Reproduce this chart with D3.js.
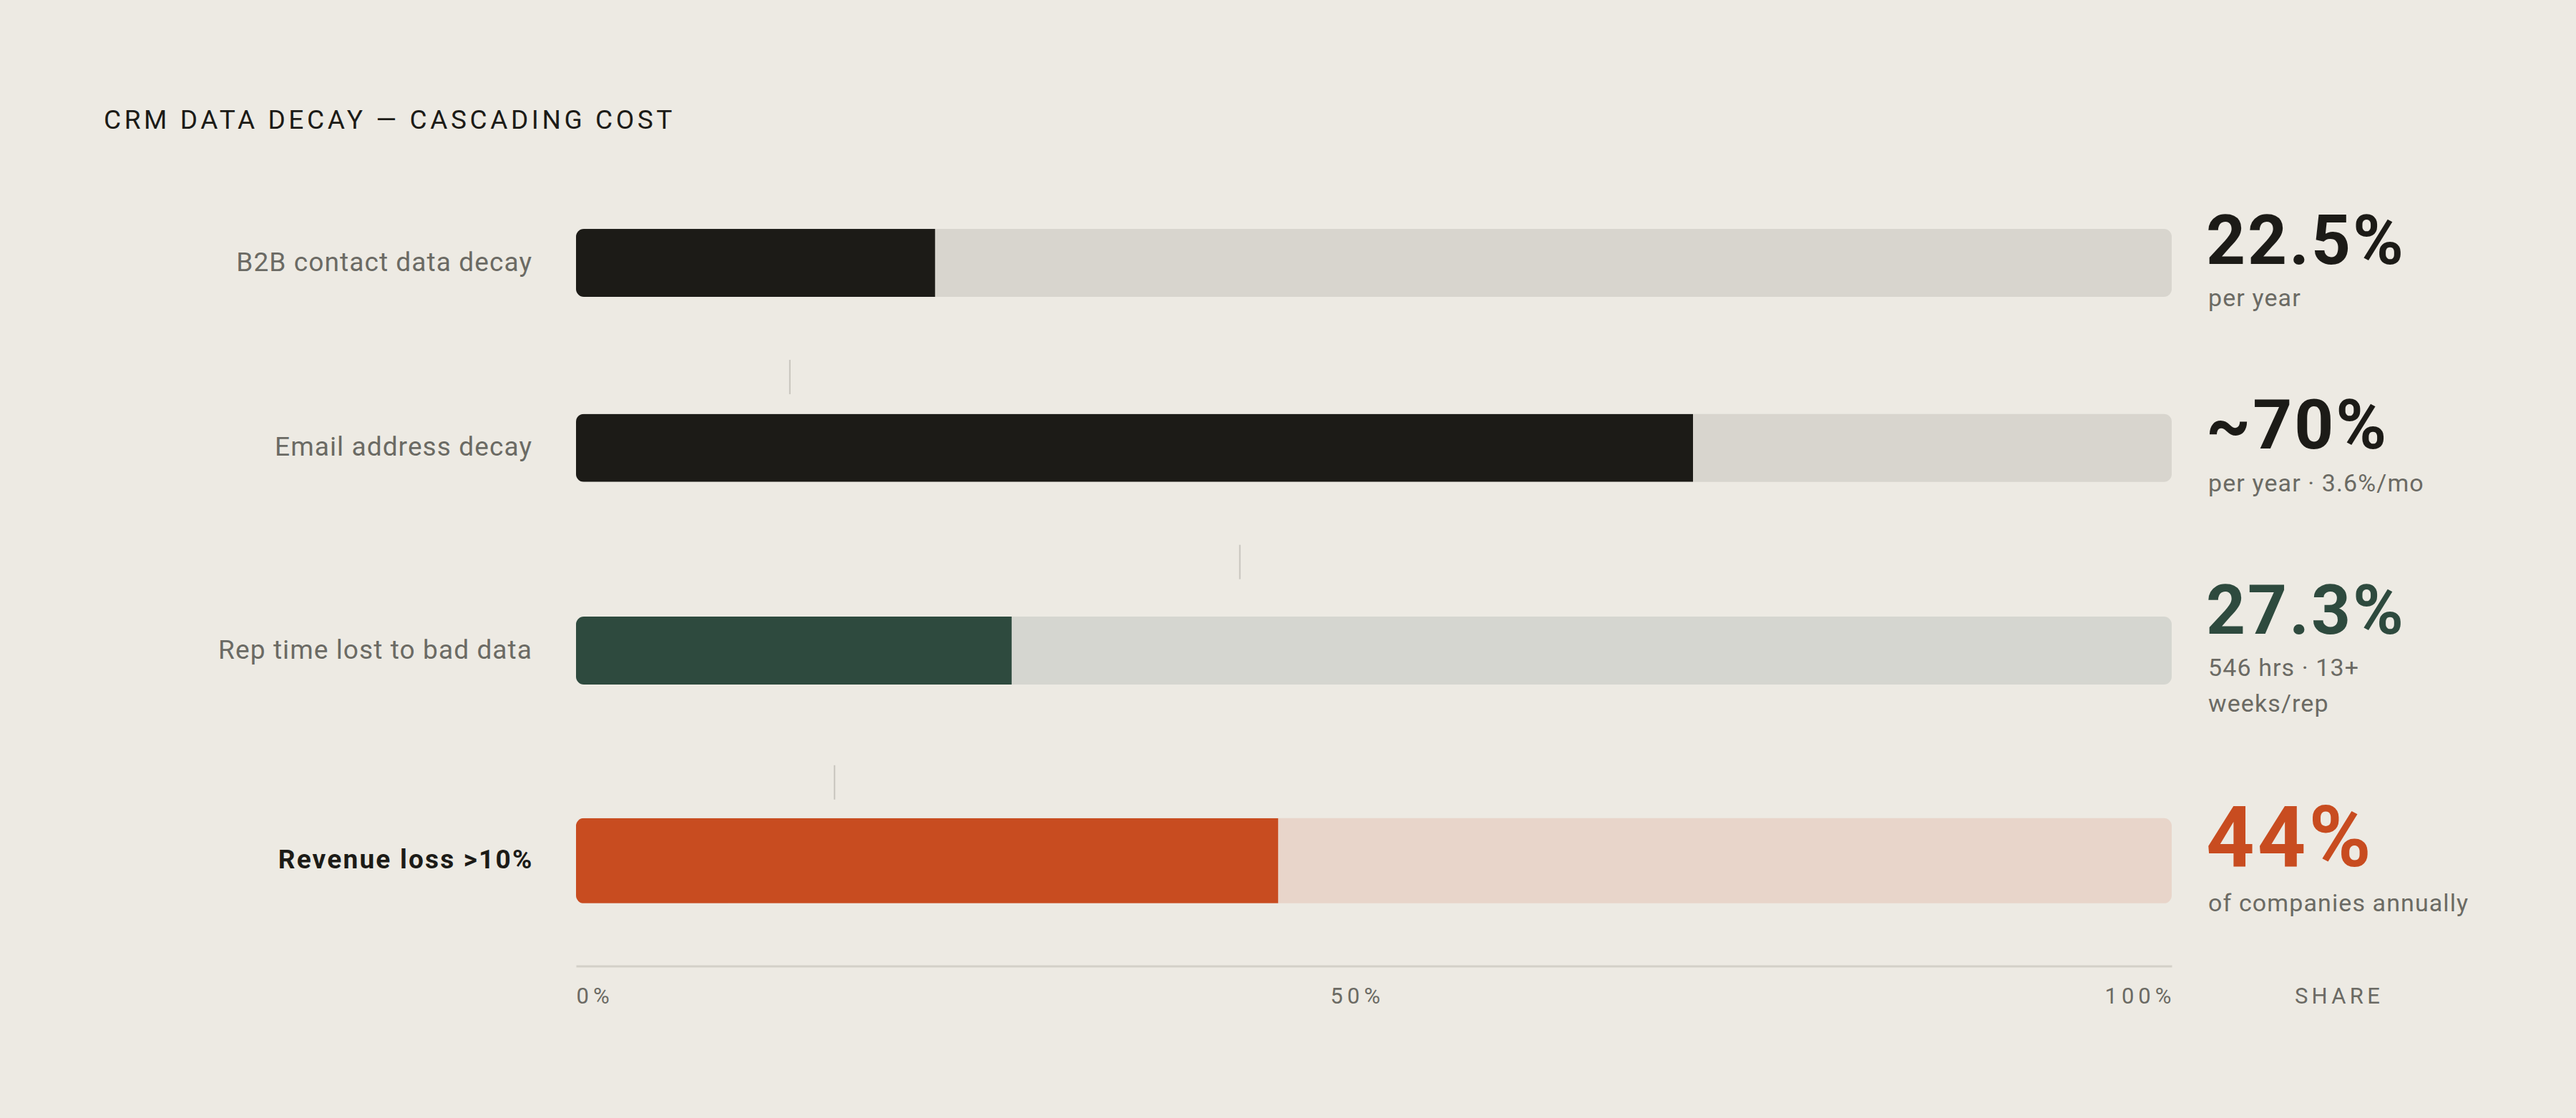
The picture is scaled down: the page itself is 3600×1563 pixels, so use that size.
<!DOCTYPE html>
<html>
<head>
<meta charset="utf-8">
<script src="https://cdn.jsdelivr.net/npm/d3@7"></script>
<style>
  html, body { margin: 0; padding: 0; background: #edeae3; }
  svg { display: block; }
</style>
</head>
<body>
<svg id="chart" width="3600" height="1563"></svg>
<script>
// Chart data
const categories = ["B2B contact data decay", "Email address decay", "Rep time lost to bad data", "Revenue loss >10%"];
const values = [22.5, 70, 27.3, 44];
const valueLabels = ["22.5%", "~70%", "27.3%", "44%"];
const notes = [["per year"], ["per year \u00b7 3.6%/mo"], ["546 hrs \u00b7 13+", "weeks/rep"], ["of companies annually"]];
const carryOver = [13.4, 41.6, 16.2];   // small marker between rows, where the next step picks up
const tickValues = [0, 50, 100];
const tickLabels = ["0%", "50%", "100%"];
const highlightRow = 3;

// Colours per row: fill, track, value text
const fills = ["#1c1b17", "#1c1b17", "#2e4a3e", "#c84c20"];
const tracks = ["#d8d5ce", "#d8d5ce", "#d5d6d0", "#e8d5ca"];
const font = "Roboto, 'Noto Sans', sans-serif";

const svg = d3.select("#chart");
const W = 3600, H = 1563;
svg.append("rect").attr("width", W).attr("height", H).attr("fill", "#edeae3");

// Title
svg.append("text")
    .attr("x", 145).attr("y", 180)
    .attr("font-family", font).attr("font-size", 37)
    .attr("letter-spacing", "4.6px")
    .attr("fill", "#1c1b17")
    .text("CRM DATA DECAY \u2014 CASCADING COST");

const x = d3.scaleLinear().domain([0, 100]).range([805, 3035]);
const labelX = 744, valueX = 3083, valueColW = 364;

// Row heights work like a stacked layout: value line + note lines
const subLine = 49.5, connGap = 58.5, connLen = 48, connSection = 104.5;
function lineFont(i) { return i === highlightRow ? 112 : 92; }
function blockHeight(i) { return lineFont(i) * 1.05 + 8 + notes[i].length * subLine; }

let rowTop = 290.5;
const rows = categories.map((c, i) => {
    const h = blockHeight(i);
    const r = { i: i, top: rowTop, h: h, cy: rowTop + h / 2 };
    rowTop += h + connSection;
    return r;
});

const defs = svg.append("defs");

rows.forEach(r => {
    const i = r.i;
    const hl = i === highlightRow;
    const barH = hl ? 119 : 95;
    const y0 = r.cy - barH / 2;

    defs.append("clipPath").attr("id", "clip" + i)
        .append("rect")
        .attr("x", x(0)).attr("y", y0)
        .attr("width", x(100) - x(0)).attr("height", barH)
        .attr("rx", 11);

    // track
    svg.append("rect")
        .attr("x", x(0)).attr("y", y0)
        .attr("width", x(100) - x(0)).attr("height", barH)
        .attr("rx", 11)
        .attr("fill", tracks[i]);

    // value bar
    svg.append("rect")
        .attr("clip-path", "url(#clip" + i + ")")
        .attr("x", x(0)).attr("y", y0)
        .attr("width", x(values[i]) - x(0)).attr("height", barH)
        .attr("fill", fills[i]);

    // category label
    svg.append("text")
        .attr("x", labelX + (hl ? 1.5 : 0)).attr("y", r.cy + 11)
        .attr("text-anchor", "end")
        .attr("font-family", font).attr("font-size", 37)
        .attr("letter-spacing", hl ? "2.2px" : "1.1px")
        .attr("font-weight", hl ? 700 : 400)
        .attr("fill", hl ? "#1c1b17" : "#6b6a64")
        .text(categories[i]);

    // big number
    const lf = lineFont(i);
    svg.append("text")
        .attr("x", valueX).attr("y", r.top + lf * 0.85)
        .attr("font-family", font).attr("font-size", hl ? 118 : 96)
        .attr("letter-spacing", hl ? "4px" : "3px")
        .attr("font-weight", 700)
        .attr("fill", fills[i])
        .text(valueLabels[i]);

    // note lines
    notes[i].forEach((n, k) => {
        svg.append("text")
            .attr("x", valueX + 3).attr("y", r.top + lf * 1.05 + 41 + k * subLine)
            .attr("font-family", font).attr("font-size", 34)
            .attr("letter-spacing", "1.1px")
            .attr("fill", "#6b6a64")
            .text(n);
    });

    // connector to next row
    if (i < carryOver.length) {
        const cTop = r.top + r.h + connGap;
        svg.append("line")
            .attr("x1", x(carryOver[i])).attr("x2", x(carryOver[i]))
            .attr("y1", cTop).attr("y2", cTop + connLen)
            .attr("stroke", "#c8c5be").attr("stroke-width", 2);
    }
});

// Axis
const last = rows[rows.length - 1];
const axisY = last.top + last.h + 59.5;
const axis = svg.append("g")
    .attr("transform", "translate(0," + axisY + ")")
    .call(d3.axisBottom(x).tickValues(tickValues)
        .tickFormat((d, k) => tickLabels[k])
        .tickSize(0).tickSizeOuter(0).tickPadding(31));
axis.select(".domain").attr("stroke", "#d3d0c8").attr("stroke-width", 3);
axis.selectAll("text")
    .attr("font-family", font).attr("font-size", 31)
    .attr("letter-spacing", "6px")
    .attr("fill", "#6b6a64");
const tickText = axis.selectAll(".tick text").nodes();
tickText[0].setAttribute("text-anchor", "start");
tickText[tickText.length - 1].setAttribute("text-anchor", "end");
tickText[tickText.length - 1].setAttribute("x", 5);
// middle label sits between the end labels like a space-between row
const w0 = tickText[0].getComputedTextLength();
const wN = tickText[tickText.length - 1].getComputedTextLength();
d3.select(tickText[1]).attr("x", (w0 - wN) / 2);

svg.append("text")
    .attr("x", valueX + 4 + valueColW / 2).attr("y", axisY + 31 + 31 * 0.71)
    .attr("text-anchor", "middle")
    .attr("font-family", font).attr("font-size", 31)
    .attr("letter-spacing", "5.3px")
    .attr("fill", "#6b6a64")
    .text("SHARE");
</script>
</body>
</html>
